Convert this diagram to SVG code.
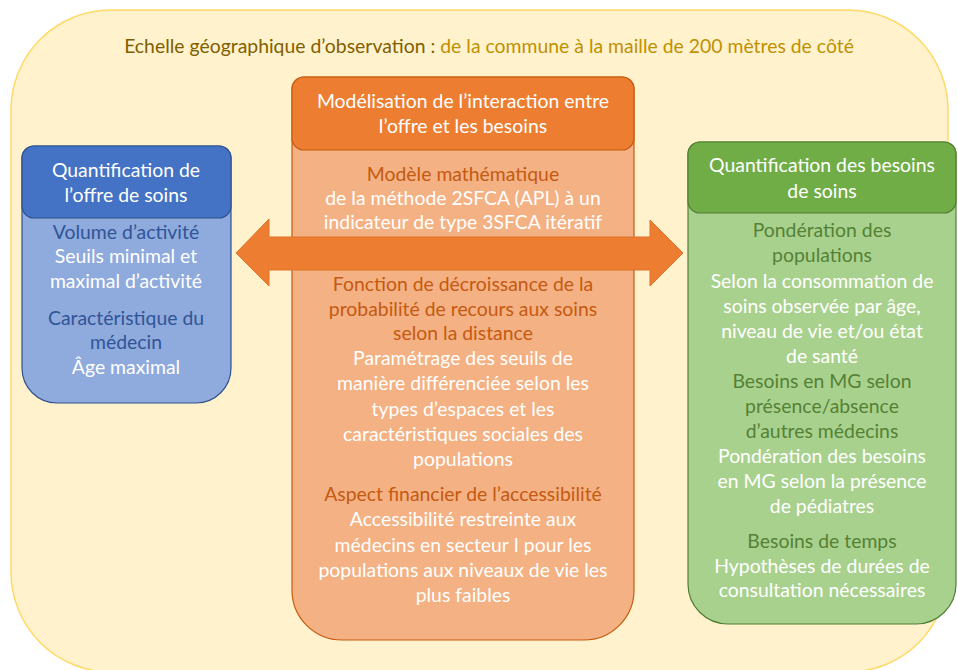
<svg xmlns="http://www.w3.org/2000/svg" width="958" height="670" viewBox="0 0 958 670">
<style>
text{font-family:Lato,"Liberation Sans",sans-serif;font-size:19.4px;text-anchor:middle}
.w{fill:#ffffff}
.db{fill:#2f5597}
.do{fill:#c55a11}
.dg{fill:#548235}
</style>
<rect x="0" y="0" width="958" height="670" fill="#ffffff"/>
<g id="background">
<rect x="11" y="10" width="937" height="662" rx="100" ry="100" fill="#fff2cc" stroke="#ffd966" stroke-width="1.5"/>
<text x="489" y="53"><tspan fill="#7f6000">Echelle géographique d’observation : </tspan><tspan fill="#bf9000">de la commune à la maille de 200 mètres de côté</tspan></text>
</g>
<g id="offre">
<path d="M22,158 A12,12 0 0 1 34,146 H219 A12,12 0 0 1 231,158 V368 A35,35 0 0 1 196,403 H57 A35,35 0 0 1 22,368 Z" fill="#8faadc" stroke="#2f528f" stroke-width="1.2"/>
<rect x="22" y="146" width="209" height="72" rx="12" fill="#4472c4" stroke="#2f528f" stroke-width="1.2"/>
<text class="w" x="126" y="177">Quantification de</text>
<text class="w" x="126" y="202">l’offre de soins</text>
<text class="db" x="126" y="239">Volume d’activité</text>
<text class="w" x="126" y="263">Seuils minimal et</text>
<text class="w" x="126" y="288">maximal d’activité</text>
<text class="db" x="126" y="325">Caractéristique du</text>
<text class="db" x="126" y="349">médecin</text>
<text class="w" x="126" y="374">Âge maximal</text>
</g>
<g id="interaction">
<path d="M292,89 A12,12 0 0 1 304,77 H622 A12,12 0 0 1 634,89 V590 A50,50 0 0 1 584,640 H342 A50,50 0 0 1 292,590 Z" fill="#f4b183" stroke="#c55a11" stroke-width="1.2"/>
<rect x="292" y="77" width="342" height="73" rx="12" fill="#ed7d31" stroke="#c55a11" stroke-width="1.2"/>
<text class="w" x="463" y="108">Modélisation de l’interaction entre</text>
<text class="w" x="463" y="133">l’offre et les besoins</text>
<text class="do" x="463" y="181">Modèle mathématique</text>
<text class="w" x="463" y="205">de la méthode 2SFCA (APL) à un</text>
<text class="w" x="463" y="229">indicateur de type 3SFCA itératif</text>
<text class="do" x="463" y="291">Fonction de décroissance de la</text>
<text class="do" x="463" y="316">probabilité de recours aux soins</text>
<text class="do" x="463" y="340">selon la distance</text>
<text class="w" x="463" y="365">Paramétrage des seuils de</text>
<text class="w" x="463" y="390">manière différenciée selon les</text>
<text class="w" x="463" y="416">types d’espaces et les</text>
<text class="w" x="463" y="441">caractéristiques sociales des</text>
<text class="w" x="463" y="466">populations</text>
<text class="do" x="463" y="501">Aspect financier de l’accessibilité</text>
<text class="w" x="463" y="526">Accessibilité restreinte aux</text>
<text class="w" x="463" y="552">médecins en secteur I pour les</text>
<text class="w" x="463" y="577">populations aux niveaux de vie les</text>
<text class="w" x="463" y="602">plus faibles</text>
</g>
<g id="besoins">
<path d="M688,154 A12,12 0 0 1 700,142 H944 A12,12 0 0 1 956,154 V584 A40,40 0 0 1 916,624 H728 A40,40 0 0 1 688,584 Z" fill="#a9d18e" stroke="#507e32" stroke-width="1.2"/>
<rect x="688" y="142" width="268" height="71" rx="12" fill="#70ad47" stroke="#507e32" stroke-width="1.2"/>
<text class="w" x="822" y="172">Quantification des besoins</text>
<text class="w" x="822" y="198">de soins</text>
<text class="dg" x="822" y="237">Pondération des</text>
<text class="dg" x="822" y="262">populations</text>
<text class="w" x="822" y="288">Selon la consommation de</text>
<text class="w" x="822" y="313">soins observée par âge,</text>
<text class="w" x="822" y="338">niveau de vie et/ou état</text>
<text class="w" x="822" y="363">de santé</text>
<text class="dg" x="822" y="388">Besoins en MG selon</text>
<text class="dg" x="822" y="413">présence/absence</text>
<text class="dg" x="822" y="438">d’autres médecins</text>
<text class="w" x="822" y="463">Pondération des besoins</text>
<text class="w" x="822" y="488">en MG selon la présence</text>
<text class="w" x="822" y="513">de pédiatres</text>
<text class="dg" x="822" y="548">Besoins de temps</text>
<text class="w" x="822" y="573">Hypothèses de durées de</text>
<text class="w" x="822" y="597">consultation nécessaires</text>
</g>
<g id="connectors">
<polygon points="236,253 269,219 269,237 650,237 650,220 683,253 650,286 650,270 269,270 269,286" fill="#ed7d31" stroke="#e0722a" stroke-width="1"/>
</g>
</svg>
